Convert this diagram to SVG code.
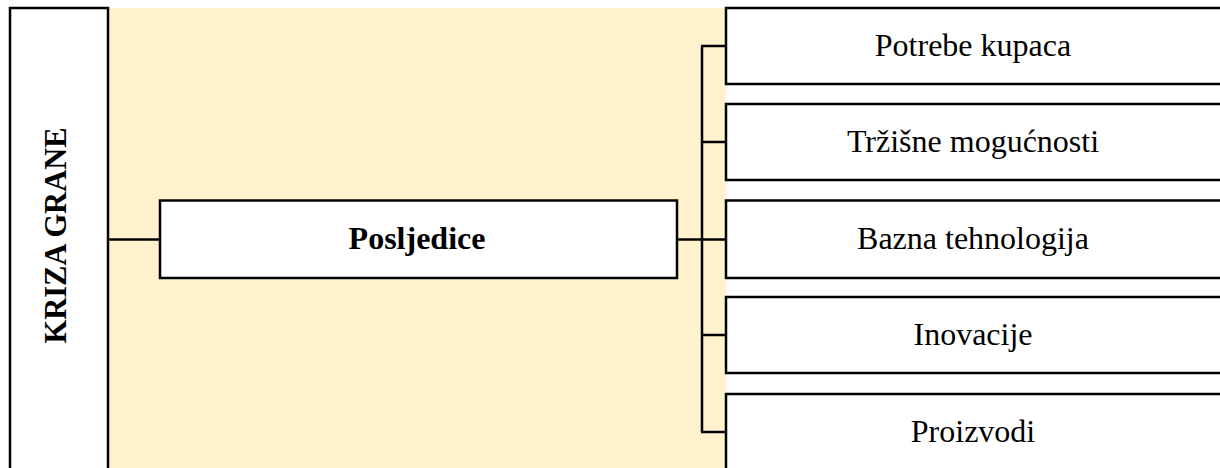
<svg xmlns="http://www.w3.org/2000/svg" width="1220" height="468" viewBox="0 0 1220 468">
  <style>
    .box { fill: #FFFFFF; stroke: #000000; stroke-width: 2.5; }
    .conn { stroke: #000000; stroke-width: 2.5; fill: none; }
    .t { font-family: "Liberation Serif", "Times New Roman", serif; font-size: 32px; fill: #000000; text-anchor: middle; }
    .b { font-weight: bold; }
  </style>
  <rect width="1220" height="468" fill="#FFFFFF"/>
  <rect id="background" x="109" y="8" width="617" height="470" fill="#FFF2CC"/>

  <g id="connectors">
    <line class="conn" x1="108" y1="239.5" x2="160" y2="239.5"/>
    <line class="conn" x1="677" y1="239.5" x2="726" y2="239.5"/>
    <line class="conn" x1="702" y1="46" x2="702" y2="432"/>
    <line class="conn" x1="701" y1="46" x2="726" y2="46"/>
    <line class="conn" x1="702" y1="142" x2="726" y2="142"/>
    <line class="conn" x1="702" y1="335" x2="726" y2="335"/>
    <line class="conn" x1="701" y1="432" x2="726" y2="432"/>
  </g>

  <g id="kriza-grane">
    <rect class="box" x="10" y="8" width="98" height="480"/>
    <text class="t b" style="font-size:30.5px" transform="translate(66,235.5) rotate(-90)">KRIZA GRANE</text>
  </g>

  <g id="posljedice">
    <rect class="box" x="160" y="200.5" width="517" height="77.5"/>
    <text class="t b" x="417" y="249">Posljedice</text>
  </g>

  <g id="potrebe-kupaca">
    <rect class="box" x="726" y="8" width="520" height="76"/>
    <text class="t" x="973" y="56">Potrebe kupaca</text>
  </g>

  <g id="trzisne-mogucnosti">
    <rect class="box" x="726" y="104" width="520" height="76"/>
    <text class="t" x="973" y="152">Tržišne mogućnosti</text>
  </g>

  <g id="bazna-tehnologija">
    <rect class="box" x="726" y="200.5" width="520" height="77.5"/>
    <text class="t" x="973" y="249">Bazna tehnologija</text>
  </g>

  <g id="inovacije">
    <rect class="box" x="726" y="297" width="520" height="76"/>
    <text class="t" x="973" y="345">Inovacije</text>
  </g>

  <g id="proizvodi">
    <rect class="box" x="726" y="394" width="520" height="90"/>
    <text class="t" x="973" y="442">Proizvodi</text>
  </g>
</svg>
